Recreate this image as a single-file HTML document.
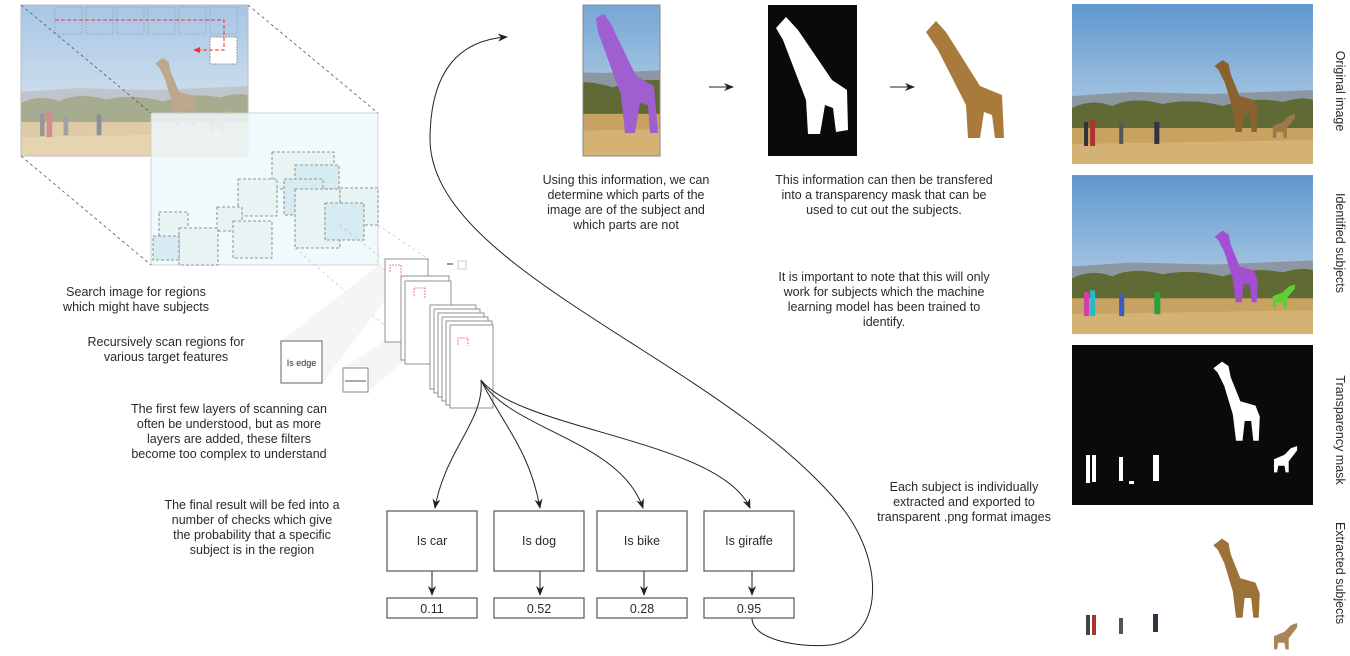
<!DOCTYPE html>
<html><head><meta charset="utf-8"><style>
html,body{margin:0;padding:0;background:#fff;}
svg{display:block;}
text{font-family:"Liberation Sans",sans-serif;font-size:12.5px;fill:#2a2a2a;}
</style></head><body>
<svg width="1350" height="656" viewBox="0 0 1350 656" xmlns="http://www.w3.org/2000/svg">
<defs>
<linearGradient id="sky" x1="0" y1="0" x2="0" y2="1"><stop offset="0" stop-color="#5f97cf"/><stop offset="1" stop-color="#cfe0ec"/></linearGradient>
<marker id="ah" markerWidth="10" markerHeight="8" refX="9" refY="4" orient="auto" markerUnits="userSpaceOnUse"><path d="M0,0 L10,4 L0,8 L3,4 Z" fill="#222"/></marker>
<g id="scene">
<rect x="0" y="0" width="240" height="160" fill="url(#sky)"/>
<path d="M0,92 L60,88 L140,90 L240,86 L240,108 L0,110 Z" fill="#8d97a2"/>
<path d="M0,104 Q20,94 40,102 Q60,92 90,100 Q120,94 150,102 Q180,92 210,98 Q230,92 240,96 L240,130 L0,134 Z" fill="#5f6a34"/>
<rect x="0" y="124" width="240" height="36" fill="#c8a261"/>
<path d="M0,140 L240,136 L240,160 L0,160 Z" fill="#d3b273"/>
</g>
<path id="gir" d="M142,62 L150,56 L156,60 L158,70 L167,92 L181,96 L185,106 L184,128 L179,128 L177,110 L171,110 L169,128 L163,128 L160,104 L152,78 L146,66 Z"/>
<path id="gir2" d="M210,118 L216,112 L222,110 L222,114 L214,124 L214,134 L211,134 L210,128 L204,128 L203,134 L200,134 L200,122 Z"/>
</defs>

<g transform="translate(21,5) scale(0.946,0.944)" opacity="0.55">
<use href="#scene"/>
<use href="#gir" fill="#8a6230"/><use href="#gir2" fill="#8a6230"/>
<rect x="20" y="115" width="5" height="24" fill="#444"/><rect x="27" y="112" width="6" height="28" fill="#a33"/>
<rect x="45" y="118" width="5" height="20" fill="#555"/><rect x="80" y="116" width="5" height="22" fill="#334"/>
</g>
<rect x="21" y="5" width="227" height="151" fill="none" stroke="#bbb"/>
<g fill="none" stroke="#9ab" stroke-dasharray="2,1" opacity="0.8">
<rect x="55" y="7" width="27" height="27"/><rect x="86" y="7" width="27" height="27"/><rect x="117" y="7" width="27" height="27"/><rect x="148" y="7" width="27" height="27"/><rect x="179" y="7" width="27" height="27"/><rect x="210" y="7" width="27" height="27"/>
</g>
<rect x="210" y="37" width="27" height="27" fill="#fff" stroke="#999" stroke-dasharray="2,1"/>
<path d="M55,20 L224,20 L224,50 L198,50" fill="none" stroke="#e33" stroke-dasharray="4,2"/>
<path d="M193,50 L200,47 L200,53 Z" fill="#e33"/>

<rect x="151" y="113" width="227" height="152" fill="#eef8fb" stroke="#ccc" opacity="0.85"/>
<g fill="#d7ebf3" stroke="#777" stroke-dasharray="3,2" stroke-width="0.8">
<rect x="272" y="152" width="62" height="37" fill="#e8f3f4"/>
<rect x="295" y="165" width="44" height="24"/>
<rect x="238" y="179" width="39" height="37" fill="#e8f3f4"/>
<rect x="284" y="179" width="39" height="36"/>
<rect x="295" y="189" width="45" height="59" fill="#e8f3f4"/>
<rect x="340" y="188" width="38" height="37" fill="#e8f3f4"/>
<rect x="325" y="203" width="39" height="37"/>
<rect x="217" y="207" width="25" height="24" fill="#e8f3f4"/>
<rect x="233" y="221" width="39" height="37" fill="#e8f3f4"/>
<rect x="159" y="212" width="29" height="38" fill="#e8f3f4"/>
<rect x="179" y="228" width="39" height="37" fill="#e8f3f4"/>
<rect x="153" y="236" width="26" height="24"/>
</g>
<g stroke="#555" stroke-dasharray="3,3" stroke-width="0.8">
<line x1="21" y1="5" x2="151" y2="113"/><line x1="248" y1="5" x2="378" y2="113"/><line x1="21" y1="156" x2="151" y2="265"/>
</g>
<g stroke="#bbb" stroke-dasharray="3,3" stroke-width="0.6">
<line x1="378" y1="265" x2="430" y2="305"/><line x1="340" y1="225" x2="383" y2="259"/><line x1="295" y1="248" x2="390" y2="330"/><line x1="378" y1="225" x2="428" y2="259"/>
</g>
<path d="M281,341 L383,262 L385,300 L322,383 Z" fill="#f2f2f2" opacity="0.8"/>
<path d="M343,368 L401,330 L405,360 L368,392 Z" fill="#f2f2f2" opacity="0.8"/>
<rect x="281" y="341" width="41" height="42" fill="#fff" stroke="#666"/>
<text x="301.5" y="366" text-anchor="middle" style="font-size:9px">Is edge</text>
<rect x="343" y="368" width="25" height="24" fill="#fff" stroke="#888"/>
<line x1="345" y1="381" x2="366" y2="381" stroke="#555"/>
<g fill="#fff" stroke="#777" stroke-width="0.8">
<rect x="385" y="259" width="43" height="83"/>
<rect x="401" y="276" width="48" height="84"/><rect x="405" y="281" width="46" height="83"/>
<rect x="430" y="305" width="46" height="84"/><rect x="434" y="309" width="46" height="84"/><rect x="438" y="313" width="46" height="84"/><rect x="442" y="317" width="46" height="84"/><rect x="446" y="321" width="46" height="84"/><rect x="450" y="325" width="43" height="83"/>
</g>
<g fill="none" stroke="#e55" stroke-dasharray="2,1" stroke-width="0.8">
<path d="M390,272 L390,265 L401,265 L401,275"/><path d="M414,296 L414,288 L425,288 L425,298"/><path d="M458,345 L458,338 L468,338 L468,346"/>
</g>
<rect x="458" y="261" width="8" height="8" fill="#fff" stroke="#ccc"/><rect x="447" y="263" width="6" height="2" fill="#99a"/>

<g fill="none" stroke="#222" stroke-width="1" marker-end="url(#ah)">
<path d="M481,380 C485,420 445,450 435,508"/>
<path d="M481,380 C500,420 530,450 540,508"/>
<path d="M481,380 C510,430 620,440 643,508"/>
<path d="M481,380 C520,430 720,440 750,508"/>
<line x1="432" y1="571" x2="432" y2="595"/><line x1="540" y1="571" x2="540" y2="595"/><line x1="644" y1="571" x2="644" y2="595"/><line x1="752" y1="571" x2="752" y2="595"/>
</g>
<g fill="#fff" stroke="#555" stroke-width="1.2">
<rect x="387" y="511" width="90" height="60"/><rect x="494" y="511" width="90" height="60"/><rect x="597" y="511" width="90" height="60"/><rect x="704" y="511" width="90" height="60"/>
<rect x="387" y="598" width="90" height="20"/><rect x="494" y="598" width="90" height="20"/><rect x="597" y="598" width="90" height="20"/><rect x="704" y="598" width="90" height="20"/>
</g>
<g text-anchor="middle">
<text x="432" y="545">Is car</text><text x="539" y="545">Is dog</text><text x="642" y="545">Is bike</text><text x="749" y="545">Is giraffe</text>
<text x="432" y="613">0.11</text><text x="539" y="613">0.52</text><text x="642" y="613">0.28</text><text x="749" y="613">0.95</text>
</g>
<path d="M752,618 C752,640 800,648 830,645 C885,638 885,560 840,505 C720,360 432,270 430,140 C430,70 460,40 507,37" fill="none" stroke="#222" stroke-width="1" marker-end="url(#ah)"/>

<svg x="583" y="5" width="77" height="151" viewBox="120 40 77 151" preserveAspectRatio="none">
<use href="#scene" transform="scale(1,1.2)"/>
</svg>
<path d="M596,18 L604,14 L610,22 L636,76 L654,86 L658,133 L650,133 L648,105 L640,103 L635,133 L625,133 L621,95 L598,32 Z" fill="#a05fd0"/>
<rect x="583" y="5" width="77" height="151" fill="none" stroke="#888"/>
<g stroke="#222" marker-end="url(#ah)"><line x1="709" y1="87" x2="733" y2="87"/><line x1="890" y1="87" x2="914" y2="87"/></g>
<rect x="768" y="5" width="89" height="151" fill="#0a0a0a"/>
<path d="M776,28 L786,17 L798,30 L832,80 L847,90 L848,130 L836,132 L833,108 L825,105 L820,134 L808,134 L806,100 L783,40 Z" fill="#fff"/>
<path d="M926,32 L936,21 L946,32 L980,86 L1002,95 L1004,138 L995,138 L992,115 L984,112 L980,138 L968,138 L966,105 L938,50 Z" fill="#a87a3c"/>

<g transform="translate(1072,4) scale(1.004,1)">
<use href="#scene"/><use href="#gir" fill="#8a6230"/><use href="#gir2" fill="#9c7a48"/>
<rect x="12" y="118" width="4" height="24" fill="#333"/><rect x="18" y="116" width="5" height="26" fill="#a33"/><rect x="47" y="120" width="4" height="20" fill="#555"/><rect x="82" y="118" width="5" height="22" fill="#334"/>
</g>
<g transform="translate(1072,175) scale(1.004,0.994)">
<use href="#scene"/><use href="#gir" fill="#a24fd4"/><use href="#gir2" fill="#5ed032"/>
<rect x="12" y="118" width="5" height="24" fill="#d33ea8"/><rect x="18" y="116" width="5" height="26" fill="#2bb8c8"/><rect x="47" y="120" width="5" height="22" fill="#3a5ac0"/><rect x="82" y="118" width="6" height="22" fill="#2aa040"/>
</g>
<rect x="1072" y="345" width="241" height="160" fill="#0a0a0a"/>
<g transform="translate(1072,345)" fill="#fff">
<use href="#gir" transform="translate(-12,-45) scale(1.08,1.1)"/><use href="#gir2" transform="translate(-8,-20) scale(1.05,1.1)"/>
<rect x="14" y="110" width="4" height="28"/><rect x="20" y="110" width="4" height="27"/><rect x="47" y="112" width="4" height="24"/><rect x="81" y="110" width="6" height="26"/><rect x="57" y="136" width="5" height="3"/>
</g>
<g transform="translate(1072,522)">
<use href="#gir" fill="#9c7238" transform="translate(-12,-45) scale(1.08,1.1)"/><use href="#gir2" fill="#a98656" transform="translate(-8,-20) scale(1.05,1.1)"/>
<rect x="14" y="93" width="4" height="20" fill="#444"/><rect x="20" y="93" width="4" height="20" fill="#a33"/><rect x="47" y="96" width="4" height="16" fill="#555"/><rect x="81" y="92" width="5" height="18" fill="#334"/>
</g>
<g text-anchor="middle" style="font-size:12px">
<text transform="translate(1336,91) rotate(90)">Original image</text>
<text transform="translate(1336,243) rotate(90)">Identified subjects</text>
<text transform="translate(1336,430) rotate(90)">Transparency mask</text>
<text transform="translate(1336,573) rotate(90)">Extracted subjects</text>
</g>

<g text-anchor="middle">
<text x="136" y="296">Search image for regions</text><text x="136" y="311">which might have subjects</text>
<text x="166" y="346">Recursively scan regions for</text><text x="166" y="361">various target features</text>
<text x="229" y="413">The first few layers of scanning can</text><text x="229" y="428">often be understood, but as more</text><text x="229" y="443">layers are added, these filters</text><text x="229" y="458">become too complex to understand</text>
<text x="252" y="509">The final result will be fed into a</text><text x="252" y="524">number of checks which give</text><text x="252" y="539">the probability that a specific</text><text x="252" y="554">subject is in the region</text>
<text x="626" y="184">Using this information, we can</text><text x="626" y="199">determine which parts of the</text><text x="626" y="214">image are of the subject and</text><text x="626" y="229">which parts are not</text>
<text x="884" y="184">This information can then be transfered</text><text x="884" y="199">into a transparency mask that can be</text><text x="884" y="214">used to cut out the subjects.</text>
<text x="884" y="281">It is important to note that this will only</text><text x="884" y="296">work for subjects which the machine</text><text x="884" y="311">learning model has been trained to</text><text x="884" y="326">identify.</text>
<text x="964" y="491">Each subject is individually</text><text x="964" y="506">extracted and exported to</text><text x="964" y="521">transparent .png format images</text>
</g>
</svg>
</body></html>
